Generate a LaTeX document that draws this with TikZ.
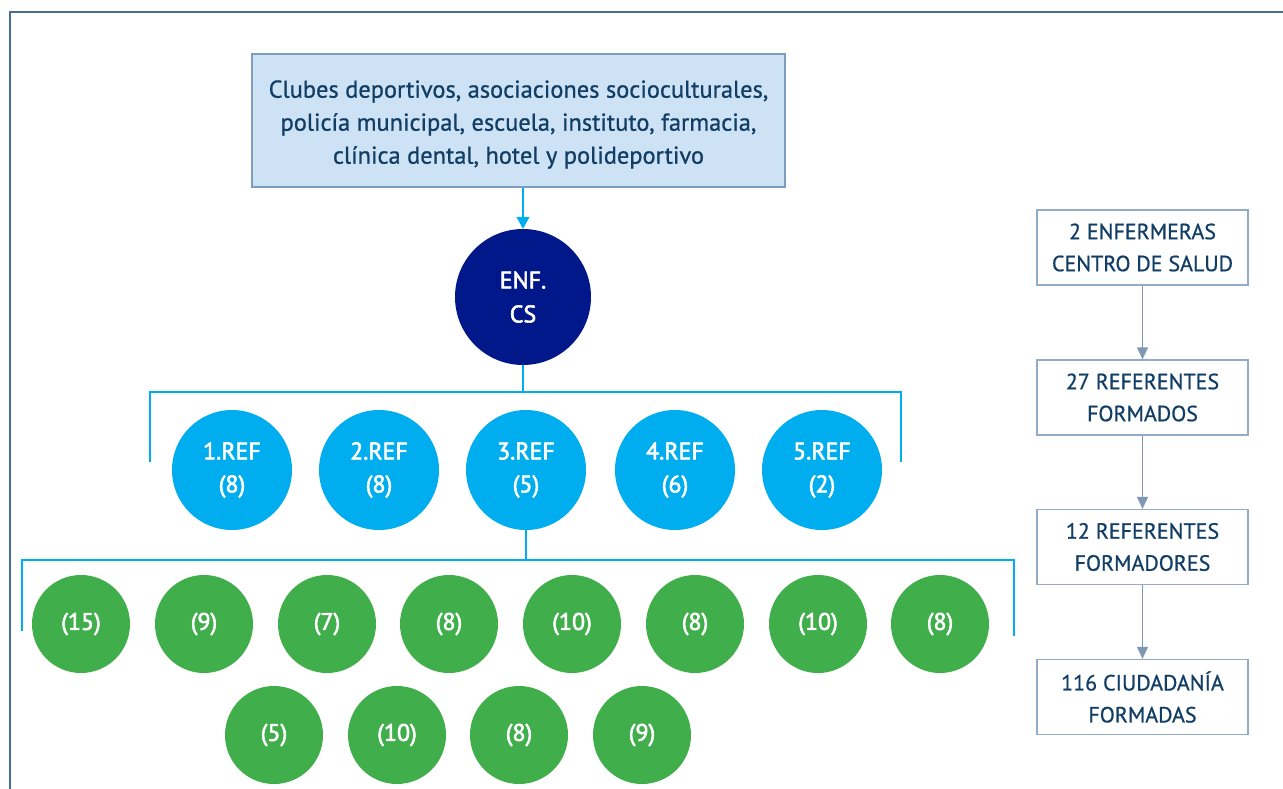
\documentclass[tikz,border=0pt]{standalone}
\usepackage{fontspec}
\setmainfont{PT Sans}
\newfontfamily\labelfont[FakeBold=0.8]{PT Sans}
\newfontfamily\circlefont[FakeBold=2.5]{PT Sans}
\usetikzlibrary{arrows.meta}
\definecolor{framec}{HTML}{4A6E92}
\definecolor{navytxt}{HTML}{123E66}
\definecolor{boxfill}{HTML}{CDE3F5}
\definecolor{boxline}{HTML}{7D9DBE}
\definecolor{enfc}{HTML}{00188A}
\definecolor{refc}{HTML}{00AEEF}
\definecolor{greenc}{HTML}{40AE4B}
\definecolor{sideline}{HTML}{93ABC6}
\definecolor{sidearrow}{HTML}{7F98B3}
\tikzset{
  topbox/.style={draw=boxline, line width=1.2pt, fill=boxfill, minimum width=533pt, minimum height=133pt,
    inner sep=0pt},
  toptext/.style={text=navytxt, align=center, font=\labelfont\fontsize{24.4}{33}\selectfont, inner sep=0pt},
  enfnode/.style={circle, fill=enfc, minimum size=136pt, inner sep=0pt, text=white, align=center,
    font=\circlefont\fontsize{24}{34}\selectfont},
  refnode/.style={circle, fill=refc, minimum size=120pt, inner sep=0pt, text=white, align=center,
    font=\circlefont\fontsize{24}{33}\selectfont},
  grnnode/.style={circle, fill=greenc, minimum size=98pt, inner sep=0pt, text=white,
    font=\circlefont\fontsize{24}{30}\selectfont},
  sidebox/.style={draw=sideline, line width=1.3pt, minimum width=211pt, minimum height=75pt,
    text=navytxt, align=center, font=\labelfont\fontsize{22}{32}\selectfont, inner sep=0pt},
  tree/.style={draw=refc, line width=1.3pt},
  sidearr/.style={draw=sidearrow, line width=1.3pt, -{Triangle[length=12pt,width=11pt]}},
}
\begin{document}
\begin{tikzpicture}[x=1pt,y=-1pt]
\useasboundingbox (0,0) rectangle (1283,789);
% outer frame
\draw[framec, line width=2pt] (10,789) -- (10,12) -- (1283,12);

% top box and nurse node
\node[topbox] (org) at (518.5,120.5) {};
\node[toptext] (orgtxt) at ([yshift=-4pt]org.center) {Clubes deportivos, asociaciones socioculturales,\\policía municipal, escuela, instituto, farmacia,\\clínica dental, hotel y polideportivo};
\node[enfnode] (enf) at (523,297) {ENF.\\CS};
\draw[tree, -{Triangle[length=12pt,width=13pt]}] (org.south -| enf) -- (enf.north);

% referent row
\node[refnode] (r1) at (232,470) {1.REF\\(8)};
\node[refnode] (r2) at (379,470) {2.REF\\(8)};
\node[refnode] (r3) at (526,470) {3.REF\\(5)};
\node[refnode] (r4) at (675,470) {4.REF\\(6)};
\node[refnode] (r5) at (822,470) {5.REF\\(2)};
\coordinate (bl) at (150,462);
\coordinate (br) at (901,462);
\draw[tree] (enf.south) -- (523,392) coordinate (bm);
\draw[tree] (bl) -- (bl |- bm) -- (br |- bm) -- (br);

% citizen rows
\node[grnnode] (g1) at (81,624) {(15)};
\node[grnnode] (g2) at (204,624) {(9)};
\node[grnnode] (g3) at (327,624) {(7)};
\node[grnnode] (g4) at (449,624) {(8)};
\node[grnnode] (g5) at (572,624) {(10)};
\node[grnnode] (g6) at (695,624) {(8)};
\node[grnnode] (g7) at (818,624) {(10)};
\node[grnnode] (g8) at (940,624) {(8)};
\node[grnnode] (h1) at (274,735) {(5)};
\node[grnnode] (h2) at (397,735) {(10)};
\node[grnnode] (h3) at (519,735) {(8)};
\node[grnnode] (h4) at (642,735) {(9)};
\coordinate (cl) at (22,631);
\coordinate (cr) at (1014,636);
\draw[tree] (r3.south) -- (526,560) coordinate (cm);
\draw[tree] (cl) -- (cl |- cm) -- (cr |- cm) -- (cr);

% summary column
\node[sidebox] (s1) at (1142.5,247.5) {2 ENFERMERAS\\CENTRO DE SALUD};
\node[sidebox] (s2) at (1142.5,397.5) {27 REFERENTES\\FORMADOS};
\node[sidebox] (s3) at (1142.5,547) {12 REFERENTES\\FORMADORES};
\node[sidebox] (s4) at (1142.5,697) {116 CIUDADANÍA\\FORMADAS};
\draw[sidearr] (s1) -- (s2);
\draw[sidearr] (s2) -- (s3);
\draw[sidearr] (s3) -- (s4);
\end{tikzpicture}
\end{document}
